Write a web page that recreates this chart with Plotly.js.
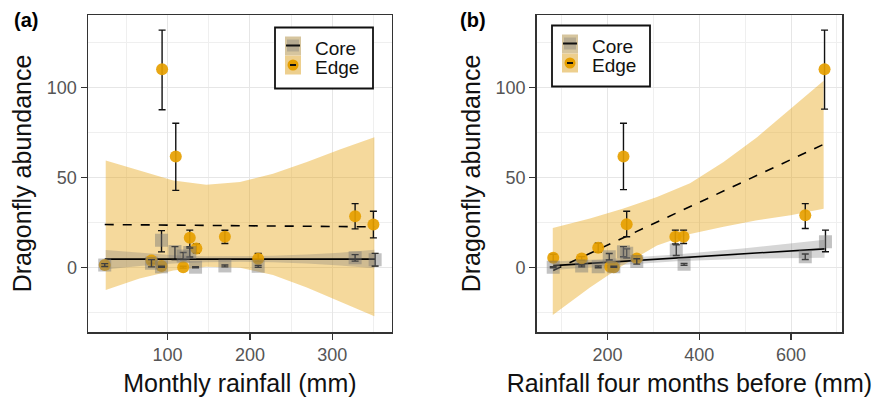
<!DOCTYPE html>
<html>
<head>
<meta charset="utf-8">
<script src="https://cdn.plot.ly/plotly-3.0.1.min.js"></script>
<style>html,body{margin:0;padding:0;background:#fff;}#chart{width:885px;height:404px;}</style>
</head>
<body>
<div id="chart"></div>
<script>
// ---------- Panel (a): monthly rainfall ----------
const rainA_edge = [23.8, 80.5, 92.7, 93.4, 110, 119, 127, 135, 169.6, 210, 327.6, 349.8];
const edgeA      = [1.5, 4.0, 1.0, 110.3, 61.8, 0.3, 16.6, 10.7, 17.2, 5.0, 28.6, 24.0];
const edgeA_up   = [0.8, 1.5, 0.5, 21.7, 18.5, 0.5, 4.3, 2.5, 3.6, 3.0, 7.0, 7.4];
const edgeA_dn   = [0.8, 1.5, 0.5, 22.5, 18.8, 0.5, 4.9, 2.5, 3.7, 1.5, 7.0, 7.4];
const rainA_core = [23.8, 80.5, 92.7, 92.7, 109, 119, 127, 134, 169.6, 210, 327.6, 351.9];
const coreA      = [1.5, 2.5, 15.3, 0.5, 9.0, 6.5, 8.5, 0.3, 1.0, 0.8, 5.5, 4.5];
const coreA_up   = [0.8, 2.0, 5.3, 0.3, 2.7, 2.0, 2.5, 0.3, 0.5, 0.5, 1.8, 3.5];
const coreA_dn   = [0.8, 2.0, 6.5, 0.3, 4.5, 2.0, 2.5, 0.3, 0.5, 0.5, 1.8, 3.5];
const fitA_x     = [23.8, 351.9];
const coreFitA   = [4.8, 4.8];
const edgeFitA   = [24.0, 22.7];
const bandA_x    = [25, 66, 107, 147, 188, 228, 269, 309, 351];
const edgeBandA_hi = [59.6, 54.1, 48.5, 46.1, 47.6, 52.2, 58.7, 65.7, 72.5];
const edgeBandA_lo = [-12.3, -6.0, -1.5, 0.6, 0.0, -4.0, -11.0, -19.0, -27.0];
const coreBandA_hi = [9.8, 8.3, 7.0, 6.4, 6.3, 6.6, 7.3, 8.3, 10.0];
const coreBandA_lo = [-1.0, 1.0, 2.4, 3.1, 3.3, 3.0, 2.3, 1.2, -0.3];

// ---------- Panel (b): rainfall four months before ----------
const rainB_edge = [82, 144, 180, 206, 214, 235, 242, 264, 348, 366, 631, 673];
const edgeB      = [5.5, 5.2, 11.1, 0.6, 0.3, 61.8, 24.2, 5.2, 17.2, 17.2, 29.2, 110.3];
const edgeB_up   = [2.0, 1.0, 2.5, 0.5, 0.5, 18.5, 7.2, 1.5, 3.7, 3.7, 6.4, 21.7];
const edgeB_dn   = [2.0, 1.0, 2.5, 0.5, 0.5, 18.4, 7.0, 1.5, 4.0, 3.7, 7.4, 22.2];
const rainB_core = [82, 144, 180, 204, 214, 235, 242, 264, 350, 367, 631, 675];
const coreB      = [0.3, 1.0, 0.5, 6.1, 0.5, 8.9, 8.0, 3.5, 9.8, 1.9, 6.1, 14.4];
const coreB_up   = [0.3, 0.5, 0.5, 1.8, 0.3, 2.8, 2.5, 1.5, 3.0, 0.5, 1.5, 6.5];
const coreB_dn   = [0.3, 0.5, 0.5, 1.8, 0.3, 2.8, 2.5, 1.5, 3.0, 0.5, 1.5, 5.5];
const fitB_x     = [82, 673];
const coreFitB   = [1.2, 10.5];
const edgeFitB   = [-1.5, 68.8];
const edgeBandB_x  = [81, 162, 235, 308, 380, 453, 526, 599, 671];
const edgeBandB_hi = [22.1, 27.3, 32.9, 39.3, 47.0, 58.7, 72.5, 88.2, 103.9];
const edgeBandB_lo = [-26.2, -11.0, 1.5, 12.3, 18.7, 22.8, 26.4, 29.2, 32.8];
const coreBandB_x  = [82, 200, 350, 500, 673];
const coreBandB_hi = [3.5, 4.8, 7.4, 10.8, 15.5];
const coreBandB_lo = [-1.2, 1.0, 3.6, 5.0, 5.5];

const groupNames = ['Core', 'Edge'];
const panelLabels = ['(a)', '(b)'];
const xTitles = ['Monthly rainfall (mm)', 'Rainfall four months before (mm)'];
const yTitle = 'Dragonfly abundance';

// ---------- styles ----------
const FONT = 'Liberation Sans, Arial, Helvetica, sans-serif';
const ORANGE = '#E69F00';
const EDGE_FILL = 'rgba(232,165,20,0.42)';
const CORE_FILL = 'rgba(120,120,120,0.30)';
const CORE_PT = 'rgba(120,120,120,0.45)';

function band(xs, hi, lo, xa, ya, color) {
  return {
    x: xs.concat(xs.slice().reverse()),
    y: hi.concat(lo.slice().reverse()),
    xaxis: xa, yaxis: ya, type: 'scatter', mode: 'lines',
    fill: 'toself', fillcolor: color, line: {width: 0}, hoverinfo: 'skip', showlegend: false
  };
}
function fit(xs, ys, xa, ya, dash) {
  return {x: xs, y: ys, xaxis: xa, yaxis: ya, type: 'scatter', mode: 'lines',
    line: {color: '#000', width: 1.6, dash: dash}, showlegend: false};
}
function pts(xs, ys, up, dn, xa, ya, sym, col, size, name) {
  return {x: xs, y: ys, xaxis: xa, yaxis: ya, type: 'scatter', mode: 'markers', name: name,
    marker: {symbol: sym, color: col, size: size, line: {width: 0}},
    error_y: {type: 'data', array: up, arrayminus: dn, visible: true, color: '#111', thickness: 1.4, width: 3.5},
    showlegend: false};
}

const traces = [
  band(bandA_x, edgeBandA_hi, edgeBandA_lo, 'x', 'y', EDGE_FILL),
  band(bandA_x, coreBandA_hi, coreBandA_lo, 'x', 'y', CORE_FILL),
  fit(fitA_x, edgeFitA, 'x', 'y', 'dash'),
  fit(fitA_x, coreFitA, 'x', 'y', 'solid'),
  pts(rainA_edge, edgeA, edgeA_up, edgeA_dn, 'x', 'y', 'circle', 'rgba(230,159,0,0.92)', 12, groupNames[1]),
  pts(rainA_core, coreA, coreA_up, coreA_dn, 'x', 'y', 'square', CORE_PT, 13, groupNames[0]),

  band(edgeBandB_x, edgeBandB_hi, edgeBandB_lo, 'x2', 'y2', EDGE_FILL),
  band(coreBandB_x, coreBandB_hi, coreBandB_lo, 'x2', 'y2', CORE_FILL),
  fit(fitB_x, edgeFitB, 'x2', 'y2', 'dash'),
  fit(fitB_x, coreFitB, 'x2', 'y2', 'solid'),
  pts(rainB_edge, edgeB, edgeB_up, edgeB_dn, 'x2', 'y2', 'circle', 'rgba(230,159,0,0.92)', 12, groupNames[1]),
  pts(rainB_core, coreB, coreB_up, coreB_dn, 'x2', 'y2', 'square', CORE_PT, 13, groupNames[0])
];

// ---------- layout ----------
const W = 885, H = 404, ML = 88, MR = 43, MT = 15, MB = 72;
const PW = W - ML - MR, PH = H - MT - MB;
const px = X => (X - ML) / PW;
const py = Y => (H - MB - Y) / PH;

const gridCol = '#E6E6E6';
function xax(domain, range, dtick, mdtick, title) {
  return {
    domain: domain, range: range, dtick: dtick, tick0: 0,
    showgrid: true, gridcolor: gridCol, gridwidth: 1,
    minor: {dtick: mdtick, tick0: 0, showgrid: true, gridcolor: '#EFEFEF', gridwidth: 1},
    zeroline: false, showline: true, mirror: true, linecolor: '#333', linewidth: 1.5,
    ticks: 'outside', ticklen: 6, tickwidth: 1.4, tickcolor: '#333',
    tickfont: {family: FONT, size: 18, color: '#555'},
    title: {text: title, font: {family: FONT, size: 25, color: '#111'}, standoff: 10}
  };
}
function yax(anchor) {
  return {
    anchor: anchor, domain: [0, 1], range: [-35.7, 140.4], dtick: 50, tick0: 0,
    showgrid: true, gridcolor: gridCol, gridwidth: 1,
    minor: {dtick: 25, tick0: 0, showgrid: true, gridcolor: '#EFEFEF', gridwidth: 1},
    zeroline: false, showline: true, mirror: true, linecolor: '#333', linewidth: 1.5,
    ticks: 'outside', ticklen: 6, tickwidth: 1.4, tickcolor: '#333',
    tickfont: {family: FONT, size: 18, color: '#555'},
    title: {text: yTitle, font: {family: FONT, size: 25, color: '#111'}, standoff: 8}
  };
}

const dA = [0, px(391.7)];
const dB = [px(536.7), 1];

// custom legends
const shapes = [], annotations = [];
function legend(left, top) {
  const p = (X0, Y0, X1, Y1) => ({x0: px(X0), x1: px(X1), y0: py(Y1), y1: py(Y0)});
  shapes.push(Object.assign({type: 'rect', xref: 'paper', yref: 'paper', fillcolor: '#fff', line: {color: '#111', width: 1.8}}, p(left, top, left + 98, top + 61)));
  // Core key
  shapes.push(Object.assign({type: 'rect', xref: 'paper', yref: 'paper', fillcolor: '#D6C59E', line: {width: 0}}, p(left + 10, top + 9, left + 26, top + 28)));
  shapes.push(Object.assign({type: 'rect', xref: 'paper', yref: 'paper', fillcolor: 'rgba(120,120,120,0.35)', line: {width: 0}}, p(left + 12, top + 12, left + 24, top + 24)));
  shapes.push(Object.assign({type: 'line', xref: 'paper', yref: 'paper', line: {color: '#111', width: 2}}, p(left + 11, top + 18, left + 25, top + 18)));
  // Edge key
  shapes.push(Object.assign({type: 'rect', xref: 'paper', yref: 'paper', fillcolor: '#EDCF8E', line: {width: 0}}, p(left + 10, top + 28, left + 26, top + 47)));
  shapes.push(Object.assign({type: 'circle', xref: 'paper', yref: 'paper', fillcolor: ORANGE, line: {width: 0}}, p(left + 12.5, top + 32, left + 23.5, top + 43)));
  shapes.push(Object.assign({type: 'line', xref: 'paper', yref: 'paper', line: {color: '#111', width: 2}}, p(left + 15, top + 37.5, left + 21, top + 37.5)));
  annotations.push({xref: 'paper', yref: 'paper', x: px(left + 38), y: py(top + 21), xanchor: 'left', yanchor: 'middle', text: groupNames[0], showarrow: false, font: {family: FONT, size: 19, color: '#111'}});
  annotations.push({xref: 'paper', yref: 'paper', x: px(left + 38), y: py(top + 40), xanchor: 'left', yanchor: 'middle', text: groupNames[1], showarrow: false, font: {family: FONT, size: 19, color: '#111'}});
}
legend(275, 27.5);
legend(552, 25.5);

annotations.push({xref: 'paper', yref: 'paper', x: px(26), y: py(20), xanchor: 'center', yanchor: 'middle', text: '<b>' + panelLabels[0] + '</b>', showarrow: false, font: {family: FONT, size: 20, color: '#000'}});
annotations.push({xref: 'paper', yref: 'paper', x: px(473), y: py(20), xanchor: 'center', yanchor: 'middle', text: '<b>' + panelLabels[1] + '</b>', showarrow: false, font: {family: FONT, size: 20, color: '#000'}});

const layout = {
  width: W, height: H,
  margin: {l: ML, r: MR, t: MT, b: MB},
  paper_bgcolor: '#fff', plot_bgcolor: '#fff',
  showlegend: false,
  xaxis: xax(dA, [3.5, 372], 100, 50, xTitles[0]),
  yaxis: yax('x'),
  xaxis2: Object.assign(xax(dB, [46, 711], 200, 100, xTitles[1]), {anchor: 'y2'}),
  yaxis2: yax('x2'),
  shapes: shapes,
  annotations: annotations
};
layout.xaxis.anchor = 'y';

Plotly.newPlot('chart', traces, layout, {displayModeBar: false, staticPlot: true});
</script>
</body>
</html>
